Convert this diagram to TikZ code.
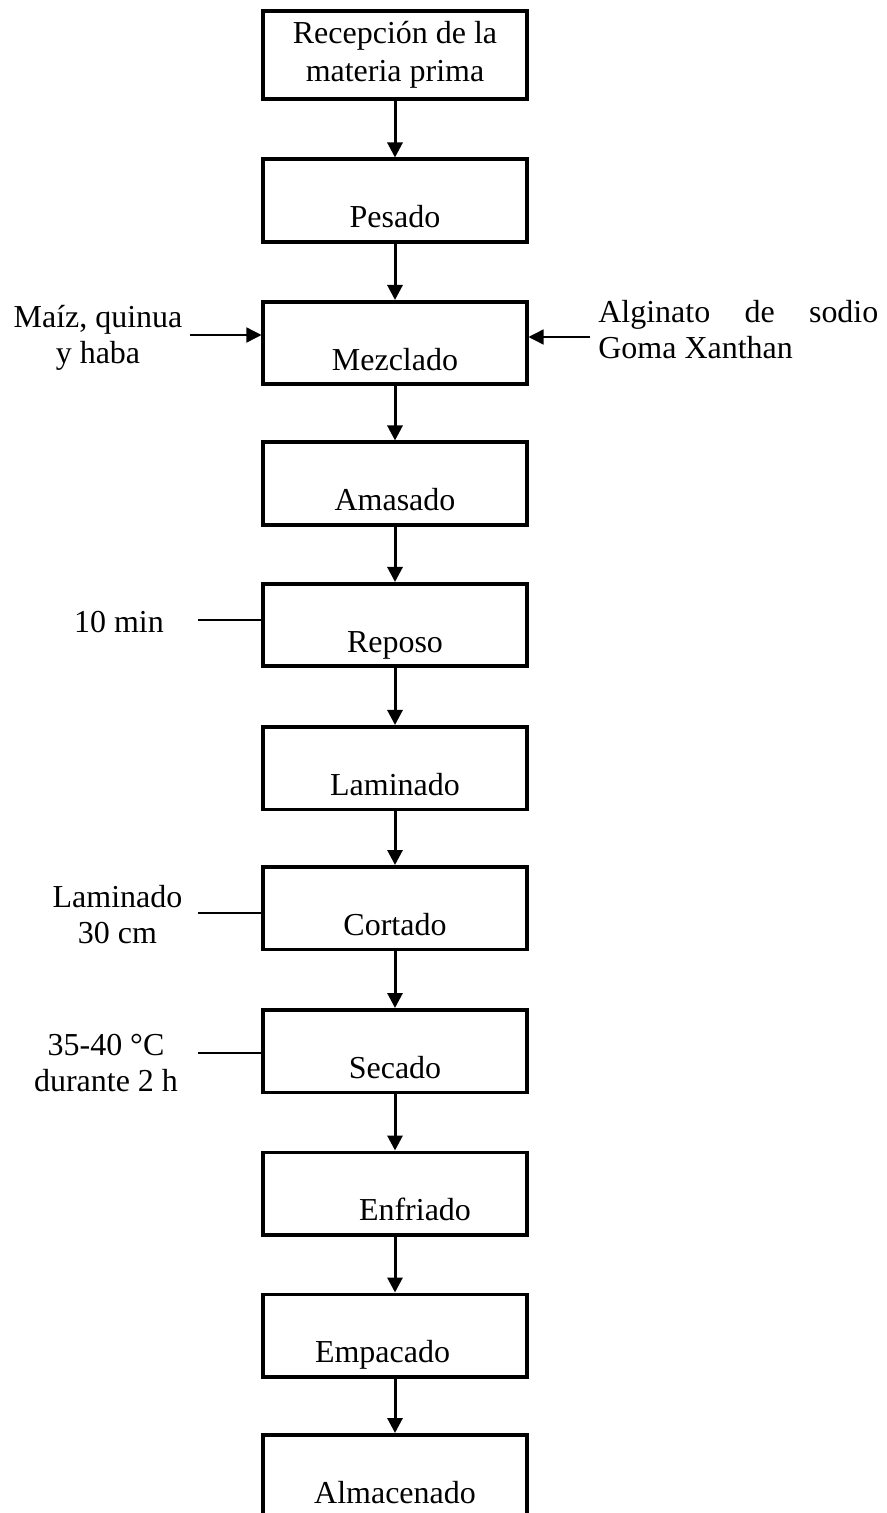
\documentclass[tikz,border=0pt]{standalone}
\usepackage{fontspec}
\setmainfont{Liberation Serif}
\usetikzlibrary{arrows.meta}

\begin{document}
\begin{tikzpicture}[
    >={Triangle[length=0.3cm, width=0.3cm]},
    font=\fontsize{18.2}{20.5}\selectfont,
    box/.style={draw, line width=2pt, minimum width=5.27cm, inner sep=0pt},
    stage/.style={box, minimum height=1.65cm, text height=1.37cm, text depth=0.28cm},
    flow/.style={->, line width=1.7pt},
    feed/.style={->, line width=0.8pt},
    tick/.style={line width=0.8pt},
    note/.style={align=center, inner sep=0pt}
]
    \useasboundingbox (0,0) rectangle (17.72,-30.26);

    \node[box, minimum height=1.77cm, align=center, font=\fontsize{18.2}{21.5}\selectfont] (rec) at (7.9,-1.10)
        {Recepción de la\\ materia prima};

    \foreach \n/\y/\t in {
        pes/-4.01/Pesado,
        mez/-6.86/Mezclado,
        ama/-9.67/Amasado,
        rep/-12.50/Reposo,
        lam/-15.36/Laminado,
        cor/-18.16/Cortado,
        sec/-21.02/Secado,
        enf/-23.87/\hspace*{0.8cm}Enfriado,
        emp/-26.71/Empacado\hspace*{0.5cm},
        alm/-29.52/Almacenado
    } {
        \node[stage] (\n) at (7.9,\y) {\t};
    }

    \foreach \a/\b in {rec/pes, pes/mez, mez/ama, ama/rep, rep/lam,
        lam/cor, cor/sec, sec/enf, enf/emp, emp/alm}
        \draw[flow] (\a) -- (\b);

    \node[note] (maiz) at (1.96,-6.75) {Maíz, quinua\\y haba};
    \coordinate (maizend) at (3.8,-6.70);
    \draw[feed] (maizend) -- (maizend -| mez.west);

    \node[note, anchor=west, align=left] (alg) at (11.96,-6.59)
        {\hbox to 5.6cm{Alginato\hfill de\hfill sodio}\\Goma Xanthan};
    \coordinate (algend) at (11.8,-6.74);
    \draw[feed] (algend) -- (algend -| mez.east);

    \foreach \n/\x/\y/\t/\s/\ly in {
        min/2.38/-12.44/10 min/rep/-12.40,
        corte/2.35/-18.29/Laminado\\30 cm/cor/-18.26,
        temp/2.12/-21.26/35-40 °C\\durante 2 h/sec/-21.06
    } {
        \node[note] (\n) at (\x,\y) {\t};
        \coordinate (\n end) at (3.96,\ly);
        \draw[tick] (\n end) -- (\n end -| \s.west);
    }
\end{tikzpicture}
\end{document}
